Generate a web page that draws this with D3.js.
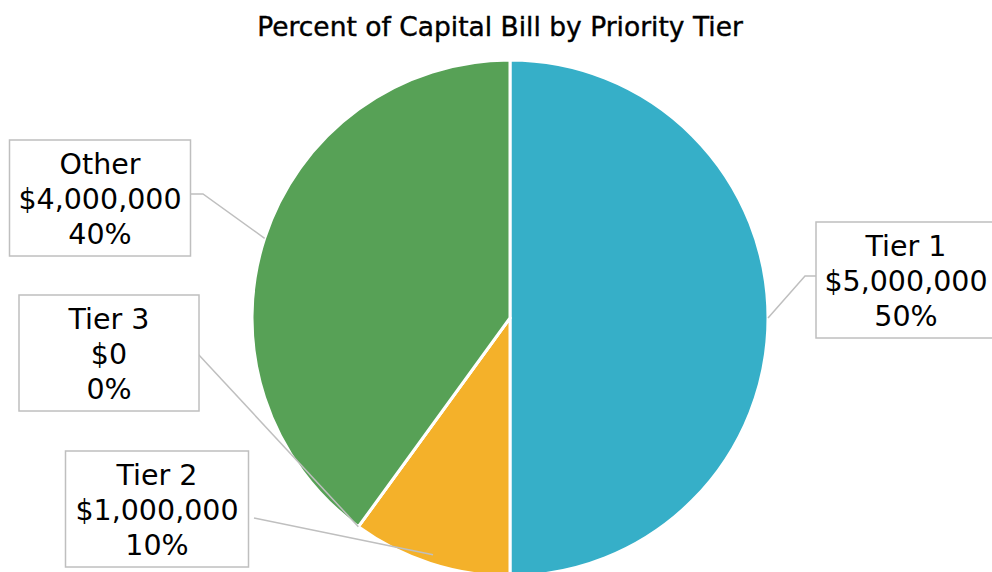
<!DOCTYPE html>
<html lang="en">
<head>
<meta charset="UTF-8">
<title>Percent of Capital Bill by Priority Tier</title>
<script src="https://d3js.org/d3.v7.min.js"></script>
<style>
    html, body { margin: 0; padding: 0; background: #fff; overflow: hidden; }
    text { font-family: "DejaVu Sans", sans-serif; fill: #000; }
</style>
</head>
<body>
<svg id="chart" width="992" height="572"></svg>
<script>
// data
const tiers = ["Tier 1", "Tier 2", "Tier 3", "Other"];
const amounts = [5000000, 1000000, 0, 4000000];
const colors = ["#36afc8", "#f4b12a", "#a5a5a5", "#57a156"];

// label boxes (center x, center y, width) and leader start points
const boxes = [
    { cx: 906, cy: 280, w: 180, lx: 817, ly: 276, elbow: [805, 276], r: 1.0 },
    { cx: 157, cy: 509, w: 183, lx: 254, ly: 518, elbow: null, r: 0.965 },
    { cx: 109, cy: 353, w: 180, lx: 198, ly: 354, elbow: null, r: 1.0 },
    { cx: 100, cy: 198, w: 181, lx: 191, ly: 194, elbow: [203, 194], r: 1.0 }
];

const svg = d3.select("#chart");
const cx = 510, cy = 318, radius = 258;
const total = d3.sum(amounts);

svg.append("text")
    .attr("x", 500)
    .attr("y", 36)
    .attr("text-anchor", "middle")
    .style("font-size", "26.5px")
    .style("stroke", "#000")
    .style("stroke-width", 0.4)
    .text("Percent of Capital Bill by Priority Tier");

const pie = d3.pie().sort(null).value(d => d)(amounts);
const arc = d3.arc().innerRadius(0).outerRadius(radius);

const g = svg.append("g").attr("transform", `translate(${cx},${cy})`);

g.selectAll("path")
    .data(pie)
    .join("path")
    .attr("d", arc)
    .attr("fill", (d, i) => colors[i])
    .attr("stroke", "#fff")
    .attr("stroke-width", 3)
    .attr("stroke-linejoin", "round");

const fmtMoney = d3.format("$,");
const fmtPct = d3.format(".0%");

// leader lines
pie.forEach((d, i) => {
    const b = boxes[i];
    const a = (d.startAngle + d.endAngle) / 2;
    const ex = cx + Math.sin(a) * radius * b.r;
    const ey = cy - Math.cos(a) * radius * b.r;
    const pts = [[b.lx, b.ly]];
    if (b.elbow) pts.push(b.elbow);
    pts.push([ex, ey]);
    svg.append("path")
        .attr("d", d3.line()(pts))
        .attr("fill", "none")
        .attr("stroke", "#bfbfbf")
        .attr("stroke-width", 1.5);
});

// label boxes
pie.forEach((d, i) => {
    const b = boxes[i];
    const lg = svg.append("g");
    lg.append("rect")
        .attr("x", b.cx - b.w / 2)
        .attr("y", b.cy - 58)
        .attr("width", b.w)
        .attr("height", 116)
        .attr("fill", "#fff")
        .attr("stroke", "#bfbfbf")
        .attr("stroke-width", 1.5);
    const lines = [tiers[i], fmtMoney(amounts[i]), fmtPct(amounts[i] / total)];
    lines.forEach((t, k) => {
        lg.append("text")
            .attr("x", b.cx)
            .attr("y", b.cy - 24 + k * 35)
            .attr("text-anchor", "middle")
            .style("font-size", "28.5px")
            .text(t);
    });
});
</script>
</body>
</html>
